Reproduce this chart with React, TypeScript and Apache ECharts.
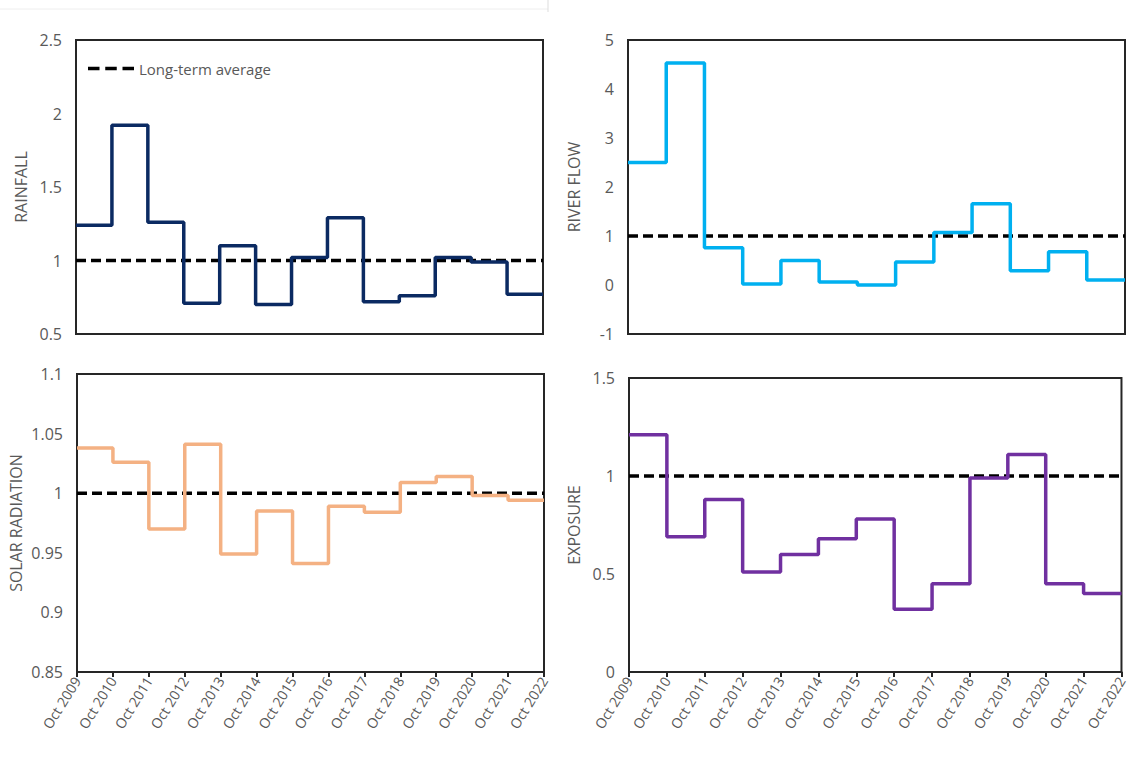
import React, { useEffect, useRef } from "react";
import * as echarts from "echarts";

const categories = [
  "Oct 2009", "Oct 2010", "Oct 2011", "Oct 2012", "Oct 2013", "Oct 2014", "Oct 2015",
  "Oct 2016", "Oct 2017", "Oct 2018", "Oct 2019", "Oct 2020", "Oct 2021", "Oct 2022",
];

// one value per year-long interval (Oct 2009–Oct 2010 ... Oct 2021–Oct 2022)
const rainfall = [1.24, 1.92, 1.26, 0.71, 1.10, 0.70, 1.02, 1.29, 0.72, 0.76, 1.02, 0.99, 0.77];
const riverFlow = [2.5, 4.53, 0.76, 0.02, 0.5, 0.06, 0.0, 0.47, 1.07, 1.66, 0.29, 0.68, 0.1];
const solarRadiation = [1.038, 1.026, 0.970, 1.041, 0.949, 0.985, 0.941, 0.989, 0.984, 1.009, 1.014, 0.998, 0.994];
const exposure = [1.21, 0.69, 0.88, 0.51, 0.60, 0.68, 0.78, 0.32, 0.45, 0.99, 1.11, 0.45, 0.40];

const longTermAverage = 1;

const FONT = "'Open Sans', 'Noto Sans', sans-serif";
const GREY = "#595959";
const FRAME = "#262626";

function stepData(v: number[]) {
  return [...v, v[v.length - 1]];
}

export default function App() {
  const ref = useRef<HTMLDivElement>(null);
  useEffect(() => {
    if (!ref.current) return;
    const chart = echarts.init(ref.current, undefined, { renderer: "svg" });

    const panels = [
      { name: "RAINFALL", data: rainfall, color: "#0b2a62", min: 0.5, max: 2.5, interval: 0.5, grid: { left: 76, top: 40, width: 467, height: 294 }, bottom: false, nameGap: 47 },
      { name: "RIVER FLOW", data: riverFlow, color: "#00b0f0", min: -1, max: 5, interval: 1, grid: { left: 628, top: 40, width: 497, height: 294 }, bottom: false, nameGap: 46 },
      { name: "SOLAR RADIATION", data: solarRadiation, color: "#f4b183", min: 0.85, max: 1.1, interval: 0.05, grid: { left: 77, top: 374, width: 467, height: 298 }, bottom: true, nameGap: 53 },
      { name: "EXPOSURE", data: exposure, color: "#7030a0", min: 0, max: 1.5, interval: 0.5, grid: { left: 629, top: 378, width: 496, height: 294 }, bottom: true, nameGap: 47 },
    ];

    const grids = panels.map((p) => ({
      ...p.grid,
      show: true,
      borderColor: FRAME,
      borderWidth: 2,
      backgroundColor: "transparent",
      containLabel: false,
    }));

    const xAxes = panels.map((p, i) => ({
      type: "category",
      gridIndex: i,
      data: categories,
      boundaryGap: false,
      axisLine: { show: true, onZero: false, lineStyle: { color: FRAME, width: 2 } },
      axisTick: { show: p.bottom, inside: false, length: 5, lineStyle: { color: FRAME, width: 2 } },
      axisLabel: {
        show: p.bottom,
        rotate: 58,
        interval: 0,
        color: GREY,
        fontFamily: FONT,
        fontSize: 14,
        margin: 6,
      },
      splitLine: { show: false },
    }));

    const yAxes = panels.map((p, i) => ({
      type: "value",
      gridIndex: i,
      min: p.min,
      max: p.max,
      interval: p.interval,
      name: p.name,
      nameLocation: "middle",
      nameGap: p.nameGap,
      nameRotate: 90,
      nameTextStyle: { color: GREY, fontFamily: FONT, fontSize: 16 },
      axisLine: { show: false },
      axisTick: { show: false },
      splitLine: { show: false },
      axisLabel: { color: GREY, fontFamily: FONT, fontSize: 16, margin: 14 },
    }));

    const series: any[] = [];
    panels.forEach((p, i) => {
      series.push({
        type: "line",
        name: i === 0 ? "Long-term average" : "Long-term average " + i,
        xAxisIndex: i,
        yAxisIndex: i,
        data: categories.map(() => longTermAverage),
        symbol: "none",
        lineStyle: { color: "#000", width: 3.5, type: [10, 5] },
        itemStyle: { color: "#000" },
        z: 3,
        silent: true,
      });
      series.push({
        type: "line",
        name: p.name,
        xAxisIndex: i,
        yAxisIndex: i,
        data: stepData(p.data),
        step: "end",
        symbol: "none",
        lineStyle: { color: p.color, width: 3.5 },
        itemStyle: { color: p.color },
        z: 4,
        silent: true,
      });
    });

    chart.setOption({
      animation: false,
      backgroundColor: "#fff",
      grid: grids,
      xAxis: xAxes,
      yAxis: yAxes,
      series,
      legend: {
        data: [{ name: "Long-term average" }],
        left: 83,
        top: 56,
        icon: "path://M0,0h10v3h-10z M15,0h10v3h-10z M30,0h10v3h-10z",
        itemWidth: 46,
        itemHeight: 4,
        itemGap: 8,
        textStyle: { color: GREY, fontFamily: FONT, fontSize: 15 },
        selectedMode: false,
      },
      graphic: [
        { type: "line", shape: { x1: 0, y1: 9, x2: 548, y2: 9 }, style: { stroke: "#eeeeee", lineWidth: 1 } },
        { type: "line", shape: { x1: 548, y1: 0, x2: 548, y2: 12 }, style: { stroke: "#dddddd", lineWidth: 1 } },
      ],
    });
    return () => chart.dispose();
  }, []);
  return (
    <div
      ref={ref}
      style={{ position: "fixed", left: 0, top: 0, width: 1129, height: 765, background: "#fff" }}
    />
  );
}
